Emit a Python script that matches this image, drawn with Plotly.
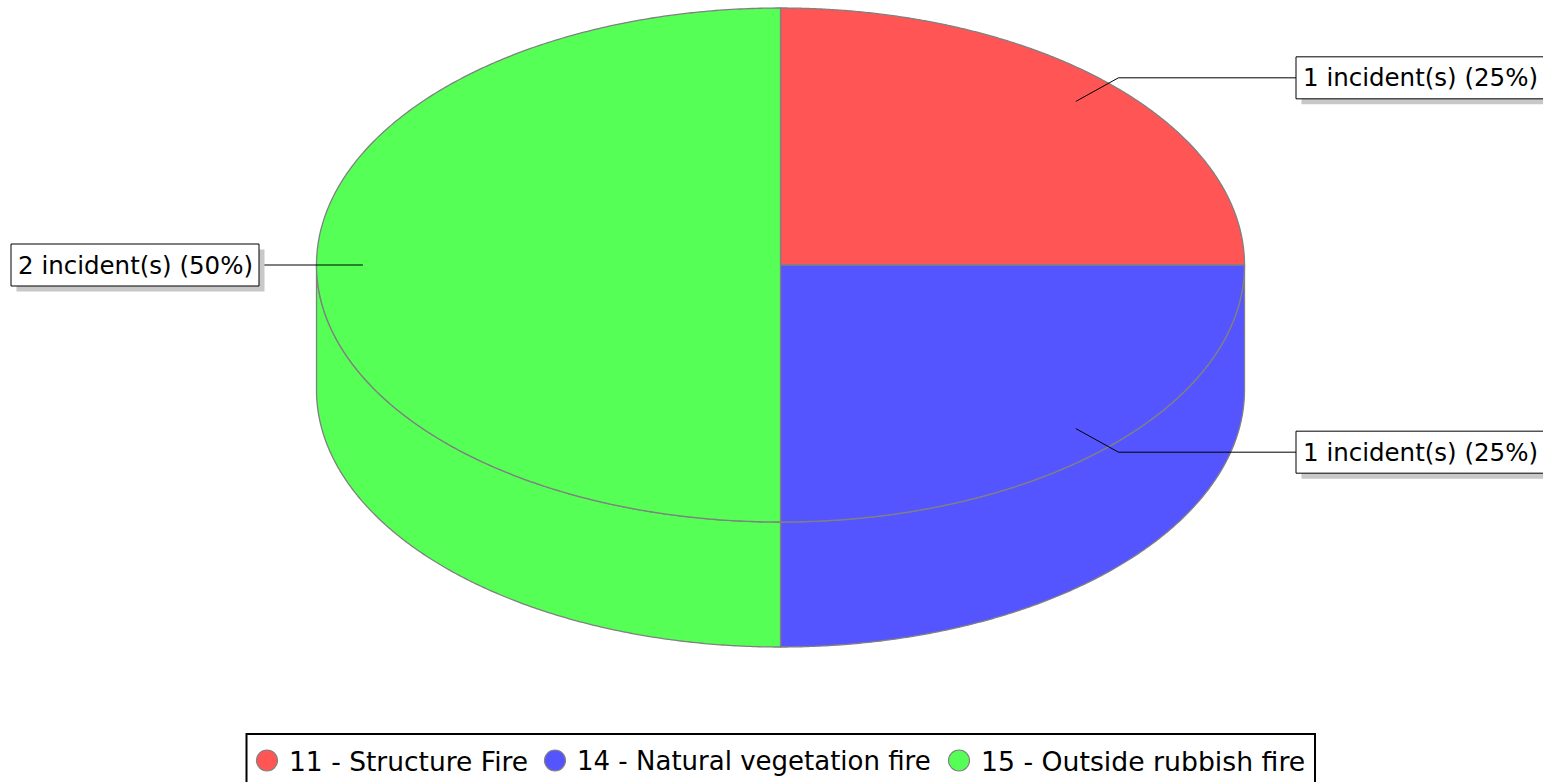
import numpy as np
import plotly.graph_objects as go

categories = ["11 - Structure Fire", "14 - Natural vegetation fire", "15 - Outside rubbish fire"]
values = [1, 1, 2]
point_labels = ["1 incident(s) (25%)", "1 incident(s) (25%)", "2 incident(s) (50%)"]
colors = ["#FF5555", "#5555FF", "#55FF55"]

W, H = 1543, 800  # the page shows 782 of this; the legend frame runs off the bottom
CX, CY, RX, RY, DEPTH = 780.5, 265, 464, 257, 125
OUTLINE = "#808080"
FONT = "DejaVu Sans"
LABEL_FS = 24.5
LEGEND_FS = [26.5, 26, 26.7]
LEGEND_MARKER_X = [267, 555, 959]
LEGEND_MARKER_Y = 760.5
LEGEND_MARKER_D = 21

total = sum(values)
edges = np.pi / 2 - 2 * np.pi * np.cumsum([0] + values) / total


def ex(a, r=1.0):
    return CX + RX * r * np.cos(a)


def ey(a, r=1.0):
    return CY - RY * r * np.sin(a)


fig = go.Figure()
outline = dict(color=OUTLINE, width=1.3, simplify=False)

# side walls (only the part of each slice on the front half)
for i in range(len(values)):
    a0, a1 = edges[i], edges[i + 1]
    lo, hi = max(a1, -np.pi), min(a0, 0.0)
    if hi <= lo:
        continue
    t = np.linspace(hi, lo, 240)
    xs = np.concatenate([ex(t), ex(t[::-1]), [ex(t[0])]])
    ys = np.concatenate([ey(t), ey(t[::-1]) + DEPTH, [ey(t[0])]])
    fig.add_trace(go.Scatter(x=xs, y=ys, mode="lines", fill="toself", fillcolor=colors[i],
                             line=outline, hoverinfo="skip", showlegend=False))

# top face
for i in range(len(values)):
    t = np.linspace(edges[i], edges[i + 1], 360)
    xs = np.concatenate([[CX], ex(t), [CX]])
    ys = np.concatenate([[CY], ey(t), [CY]])
    fig.add_trace(go.Scatter(x=xs, y=ys, mode="lines", fill="toself", fillcolor=colors[i],
                             line=outline, name=categories[i],
                             text=point_labels[i], hoverinfo="text+name", showlegend=False))

# leader lines, boxes, labels
shapes = []
annotations = []
BOX_W, BOX_H = 248, 42
for i in range(len(values)):
    mid = (edges[i] + edges[i + 1]) / 2
    right = np.cos(mid) > 0
    ly = ey(mid, 1.03)
    bx0 = 1296 if right else 11
    bx1 = bx0 + BOX_W
    by0 = ly - BOX_H / 2
    end = bx0 if right else bx1
    fig.add_trace(go.Scatter(x=[ex(mid, 0.9), ex(mid, 1.03), end], y=[ey(mid, 0.9), ly, ly],
                             mode="lines", line=dict(color="#000000", width=1),
                             hoverinfo="skip", showlegend=False))
    shapes.append(dict(type="rect", xref="x", yref="y", x0=bx0 + 5.5, x1=bx1 + 5.5, y0=by0 + 5.5,
                       y1=by0 + BOX_H + 5.5, fillcolor="#C8C8C8", line=dict(width=0), layer="above"))
    shapes.append(dict(type="rect", xref="x", yref="y", x0=bx0, x1=bx1, y0=by0, y1=by0 + BOX_H,
                       fillcolor="#FFFFFF", line=dict(color="#000000", width=1), layer="above"))
    annotations.append(dict(x=bx0 + 5, y=ly, xref="x", yref="y", text=point_labels[i], showarrow=False,
                            xanchor="left", yanchor="middle",
                            font=dict(family=FONT, size=LABEL_FS, color="#000000")))

# legend frame
shapes.append(dict(type="rect", xref="x", yref="y", x0=246.5, x1=1315, y0=734, y1=798,
                   fillcolor="#FFFFFF", line=dict(color="#000000", width=2), layer="above"))

# legend entries: each in its own legend so it can sit at its exact spot; plotly caps
# legend marker size, so a full-size swatch sits beneath each legend marker
legend_layout = {}
for i in range(len(values)):
    key = "legend" if i == 0 else f"legend{i + 1}"
    fig.add_trace(go.Scatter(x=[None], y=[None], mode="markers", name=categories[i], legend=key,
                             marker=dict(color=colors[i], size=16, symbol="circle", line=dict(width=0)),
                             showlegend=True))
    mx = LEGEND_MARKER_X[i]
    r = LEGEND_MARKER_D / 2
    shapes.append(dict(type="circle", xref="x", yref="y", x0=mx - r, x1=mx + r,
                       y0=LEGEND_MARKER_Y - r, y1=LEGEND_MARKER_Y + r, fillcolor=colors[i],
                       line=dict(color=OUTLINE, width=1.2), layer="above"))
    legend_layout[key] = dict(orientation="h", x=(mx - 22) / W, y=1 - 736.5 / H, xanchor="left", yanchor="top",
                              bgcolor="rgba(0,0,0,0)", borderwidth=0, itemwidth=34,
                              font=dict(family=FONT, size=LEGEND_FS[i], color="#000000"))

fig.update_layout(
    width=W, height=H, margin=dict(l=0, r=0, t=0, b=0),
    paper_bgcolor="#FFFFFF", plot_bgcolor="#FFFFFF",
    xaxis=dict(range=[0, W], visible=False, fixedrange=True),
    yaxis=dict(range=[H, 0], visible=False, fixedrange=True),
    shapes=shapes, annotations=annotations,
    showlegend=True,
    **legend_layout,
)

fig.write_html("out.html", config={"displayModeBar": False},
               post_script="document.body.style.margin='0';document.body.style.overflow='hidden';")
